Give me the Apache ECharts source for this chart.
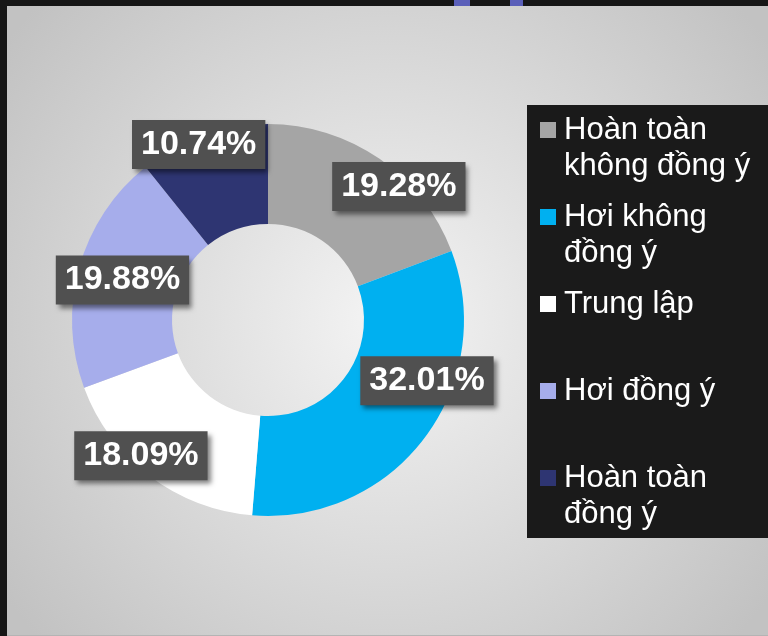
<!DOCTYPE html>
<html>
<head>
<meta charset="utf-8">
<script src="https://cdn.jsdelivr.net/npm/echarts@6/dist/echarts.min.js"></script>
<style>
	html, body { margin: 0; padding: 0; }
	#main { width: 768px; height: 636px; }
</style>
</head>
<body>
<div id="main"></div>
<script>
// du lieu bieu do
var categories = ['Hoàn toàn không đồng ý', 'Hơi không đồng ý', 'Trung lập', 'Hơi đồng ý', 'Hoàn toàn đồng ý'];
var values = [19.28, 32.01, 18.09, 19.88, 10.74];
// dong trong o dau de o vuong nam ngang dong thu nhat
var legendLines = ['\nHoàn toàn\nkhông đồng ý', '\nHơi không\nđồng ý', '\nTrung lập\n ', '\nHơi đồng ý\n ', '\nHoàn toàn\nđồng ý'];
var colors = ['#a5a5a5', '#00b0f0', '#ffffff', '#a6adeb', '#2e3572'];

// dich nhan so voi vi tri mac dinh
var labelShift = [[46, -11], [40, -29], [-37, 17], [-2, 0], [-20, -35]];

function display() {
	var myChart = echarts.init(document.getElementById('main'));

	var pieData = categories.map(function(name, i) {
		return {name: name, value: values[i], itemStyle: {color: colors[i]}};
	});

	var option = {
		backgroundColor: '#161616',
		animation: false,
		graphic: [
			{
				type: 'rect', z: -10, silent: true,
				shape: {x: 7, y: 6, width: 761, height: 629},
				style: {fill: new echarts.graphic.RadialGradient(0.5, 0.5, 0.75, [
					{offset: 0, color: '#f4f4f4'},
					{offset: 1, color: '#c2c2c2'}
				])}
			},
			{type: 'rect', z: -10, silent: true, shape: {x: 7, y: 635, width: 761, height: 1}, style: {fill: '#b4b4b4'}},
			{type: 'rect', z: -10, silent: true, shape: {x: 454, y: 0, width: 16, height: 6}, style: {fill: '#5a5fb9'}},
			{type: 'rect', z: -10, silent: true, shape: {x: 510, y: 0, width: 13, height: 6}, style: {fill: '#5a5fb9'}},
			{type: 'rect', z: -9, silent: true, shape: {x: 527, y: 105, width: 241, height: 433}, style: {fill: '#1a1a1a'}}
		],
		legend: {
			orient: 'vertical',
			left: 540,
			top: 76,
			padding: 0,
			itemWidth: 16,
			itemHeight: 16,
			itemGap: -21,
			icon: 'rect',
			selectedMode: false,
			data: categories,
			formatter: function(name) {
				return legendLines[categories.indexOf(name)];
			},
			textStyle: {
				color: '#ffffff',
				fontSize: 31,
				fontFamily: 'Liberation Sans, Arial',
				lineHeight: 36,
				padding: [0, 0, 0, 3]
			}
		},
		series: [
			{
				type: 'pie',
				center: [268, 320],
				radius: [96, 196],
				startAngle: 90,
				clockwise: true,
				avoidLabelOverlap: false,
				emphasis: {disabled: true},
				label: {
					show: true,
					position: 'inside',
					formatter: function(p) {
						return p.value.toFixed(2) + '%';
					},
					color: '#ffffff',
					fontSize: 34,
					fontWeight: 'bold',
					fontFamily: 'Liberation Sans, Arial',
					lineHeight: 37,
					backgroundColor: '#505050',
					padding: [6, 9],
					shadowColor: 'rgba(0,0,0,0.5)',
					shadowBlur: 5,
					shadowOffsetX: 3,
					shadowOffsetY: 4
				},
				labelLayout: function(params) {
					var s = labelShift[params.dataIndex];
					return {dx: s[0], dy: s[1]};
				},
				labelLine: {show: false},
				data: pieData
			}
		]
	};

	myChart.setOption(option);
}

display();
</script>
</body>
</html>
